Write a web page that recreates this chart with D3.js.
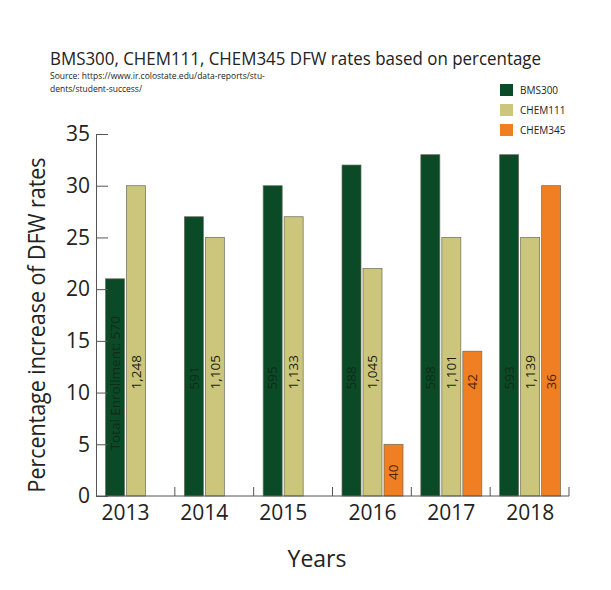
<!DOCTYPE html>
<html>
<head>
<meta charset="utf-8">
<script src="https://cdn.jsdelivr.net/npm/d3@7"></script>
<style>
  html, body { margin: 0; padding: 0; background: #fff; }
  svg { display: block; font-family: "Open Sans", "Noto Sans", sans-serif; }
</style>
</head>
<body>
<svg id="chart" width="611" height="590"></svg>
<script>
const years = ["2013", "2014", "2015", "2016", "2017", "2018"];
const seriesNames = ["BMS300", "CHEM111", "CHEM345"];
const bms300 = [21, 27, 30, 32, 33, 33];
const chem111 = [30, 25, 27, 22, 25, 25];
const chem345 = [null, null, null, 5, 14, 30];
const bms300Labels = ["Total Enrollment: 570", "591", "595", "588", "588", "593"];
const chem111Labels = ["1,248", "1,105", "1,133", "1,045", "1,101", "1,139"];
const chem345Labels = [null, null, null, "40", "42", "36"];
const yTicks = [0, 5, 10, 15, 20, 25, 30, 35];
const colors = ["#0b4a27", "#cbc67c", "#f07f23"];
const labelColors = ["#0f2c17", "#1e1e10", "#4a2408"];

const values = [bms300, chem111, chem345];
const labels = [bms300Labels, chem111Labels, chem345Labels];

const svg = d3.select("#chart");
const x = d3.scaleBand().domain(years).range([96, 569]).padding(0);
const inner = d3.scaleBand().domain(seriesNames).range([9.5, 70.5]).paddingInner(2 / 21).paddingOuter(0);
const y = d3.scaleLinear().domain([0, 35]).range([496, 134]);

// Title
svg.append("text").attr("x", 50).attr("y", 65)
  .attr("font-size", 18).attr("fill", "#222")
  .attr("textLength", 491).attr("lengthAdjust", "spacingAndGlyphs")
  .text("BMS300, CHEM111, CHEM345 DFW rates based on percentage");
svg.append("text").attr("x", 50).attr("y", 79).attr("font-size", 8.5).attr("fill", "#222")
  .text("Source: https://www.ir.colostate.edu/data-reports/stu-");
svg.append("text").attr("x", 50).attr("y", 92).attr("font-size", 8.5).attr("fill", "#222")
  .text("dents/student-success/");

// Bars
const rows = [];
years.forEach((yr, i) => {
  seriesNames.forEach((s, j) => {
    if (values[j][i] != null) rows.push({ year: yr, series: s, j, value: values[j][i], label: labels[j][i] });
  });
});

const g = svg.append("g");
g.selectAll("rect").data(rows).join("rect")
  .attr("x", d => x(d.year) + inner(d.series))
  .attr("y", d => y(d.value))
  .attr("width", inner.bandwidth())
  .attr("height", d => y(0) - y(d.value))
  .attr("fill", d => colors[d.j])
  .attr("stroke", "#6b6b5a")
  .attr("stroke-width", 0.7);

// In-bar labels
g.selectAll("text.bl").data(rows.filter(d => d.label)).join("text")
  .attr("class", "bl")
  .attr("font-size", 13.5)
  .attr("fill", d => labelColors[d.j])
  .attr("text-anchor", d => d.label.length > 8 ? "middle" : "start")
  .attr("dy", "0.35em")
  .attr("transform", d => {
    const cx = x(d.year) + inner(d.series) + inner.bandwidth() / 2;
    let cy;
    if (d.label.length > 8) cy = y(10.9);
    else if (d.value < 10) cy = y(0) - 16;
    else cy = y(10.3);
    return `translate(${cx},${cy}) rotate(-90)`;
  })
  .text(d => d.label);

// Y axis
const yAxis = d3.axisLeft(y).tickValues(yTicks).tickSize(-12).tickPadding(8).tickSizeOuter(0);
const ya = svg.append("g").attr("transform", "translate(96,0)").call(yAxis);
ya.select(".domain").attr("stroke", "#555");
ya.selectAll(".tick line").attr("stroke", "#555");
ya.selectAll(".tick text").attr("font-size", 21).attr("fill", "#222")
  .attr("font-family", "'Open Sans', sans-serif").attr("x", -6);

// X axis
const xa = svg.append("g").attr("transform", `translate(0,${y(0)})`);
xa.append("line").attr("x1", 96).attr("x2", 569).attr("y1", 0).attr("y2", 0).attr("stroke", "#555");
const bounds = years.map(yr => x(yr) + x.bandwidth());
xa.selectAll("line.tk").data(bounds).join("line").attr("class", "tk")
  .attr("x1", d => d).attr("x2", d => d).attr("y1", 0).attr("y2", -9).attr("stroke", "#555");
xa.selectAll("text.yl").data(years).join("text").attr("class", "yl")
  .attr("x", (yr, i) => {
    const present = seriesNames.filter((s, j) => values[j][i] != null);
    const first = inner(present[0]);
    const last = inner(present[present.length - 1]) + inner.bandwidth();
    return x(yr) + (first + last) / 2;
  })
  .attr("y", 24).attr("text-anchor", "middle").attr("font-size", 21).attr("fill", "#222")
  .text(d => d);

// Axis titles
svg.append("text").attr("transform", "translate(45,325) rotate(-90)")
  .attr("text-anchor", "middle").attr("font-size", 23).attr("fill", "#222")
  .attr("textLength", 335).attr("lengthAdjust", "spacingAndGlyphs")
  .text("Percentage increase of DFW rates");
svg.append("text").attr("x", 317).attr("y", 567).attr("text-anchor", "middle")
  .attr("font-size", 23).attr("fill", "#222").text("Years");

// Legend
const lg = svg.append("g").attr("transform", "translate(500,84)");
seriesNames.forEach((s, j) => {
  lg.append("rect").attr("x", 0).attr("y", j * 20).attr("width", 13).attr("height", 12).attr("fill", colors[j]);
  lg.append("text").attr("x", 20).attr("y", j * 20 + 6).attr("dy", "0.35em")
    .attr("font-size", 10).attr("fill", "#222").text(s);
});
</script>
</body>
</html>
